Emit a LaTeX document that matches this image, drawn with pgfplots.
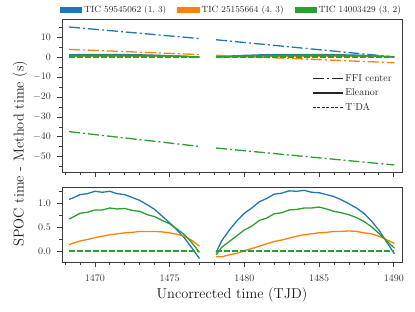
\documentclass[border=0pt]{standalone}
\usepackage{pgfplots}
\usepackage{pgfplotstable}
\pgfplotsset{compat=1.18}
\definecolor{tabblue}{HTML}{1F77B4}
\definecolor{taborange}{HTML}{FF7F0E}
\definecolor{tabgreen}{HTML}{2CA02C}
\definecolor{spine}{HTML}{3A3A3A}

% Eleanor: SPOC - method (s); nan separates the two orbits
\pgfplotstableread{
x y
1468.27 1.08
1468.6 1.12
1469.0 1.18
1469.5 1.20
1470.0 1.25
1470.5 1.23
1471.0 1.25
1471.5 1.20
1472.0 1.18
1472.5 1.12
1473.0 1.06
1473.5 0.97
1474.0 0.87
1474.5 0.73
1475.0 0.59
1475.5 0.44
1476.0 0.27
1476.5 0.06
1477.0 -0.16
1477.5 nan
1478.11 -0.03
1478.5 0.22
1479.0 0.44
1479.5 0.63
1480.0 0.79
1480.5 0.90
1481.0 1.03
1481.5 1.10
1482.0 1.19
1482.5 1.21
1483.0 1.26
1483.5 1.25
1484.0 1.27
1484.5 1.23
1485.0 1.22
1485.5 1.18
1486.0 1.14
1486.5 1.07
1487.0 0.99
1487.5 0.90
1488.0 0.79
1488.5 0.63
1489.0 0.44
1489.5 0.20
1490.04 -0.06
}\eleblue
\pgfplotstableread{
x y
1468.27 0.13
1468.6 0.17
1469.0 0.21
1469.5 0.24
1470.0 0.28
1470.5 0.31
1471.0 0.34
1471.5 0.36
1472.0 0.38
1472.5 0.39
1473.0 0.41
1473.5 0.41
1474.0 0.41
1474.5 0.40
1475.0 0.38
1475.5 0.35
1476.0 0.31
1476.5 0.22
1477.0 0.10
1477.5 nan
1478.11 -0.12
1478.5 -0.12
1479.0 -0.08
1479.5 -0.05
1480.0 0.01
1480.5 0.05
1481.0 0.10
1481.5 0.15
1482.0 0.20
1482.5 0.23
1483.0 0.27
1483.5 0.31
1484.0 0.34
1484.5 0.36
1485.0 0.38
1485.5 0.39
1486.0 0.41
1486.5 0.41
1487.0 0.42
1487.5 0.41
1488.0 0.38
1488.5 0.36
1489.0 0.31
1489.5 0.24
1490.04 0.16
}\eleorange
\pgfplotstableread{
x y
1468.27 0.67
1468.6 0.72
1469.0 0.79
1469.5 0.81
1470.0 0.86
1470.5 0.86
1471.0 0.90
1471.5 0.88
1472.0 0.89
1472.5 0.85
1473.0 0.83
1473.5 0.76
1474.0 0.72
1474.5 0.64
1475.0 0.57
1475.5 0.46
1476.0 0.34
1476.5 0.17
1477.0 -0.03
1477.5 nan
1478.11 -0.08
1478.5 0.08
1479.0 0.20
1479.5 0.32
1480.0 0.44
1480.5 0.52
1481.0 0.64
1481.5 0.69
1482.0 0.78
1482.5 0.80
1483.0 0.86
1483.5 0.87
1484.0 0.90
1484.5 0.90
1485.0 0.92
1485.5 0.88
1486.0 0.83
1486.5 0.80
1487.0 0.76
1487.5 0.70
1488.0 0.62
1488.5 0.51
1489.0 0.37
1489.5 0.22
1490.04 0.06
}\elegreen
% TDA: zero difference
\pgfplotstableread{
x y
1468.27 0
1477.0 0
1477.5 nan
1478.11 0
1490.04 0
}\tda
% FFI center
\pgfplotstableread{
x y
1468.27 15.0
1477.0 9.2
1477.5 nan
1478.11 8.6
1490.04 0.0
}\ffiblue
\pgfplotstableread{
x y
1468.27 3.8
1477.0 1.2
1477.5 nan
1478.11 0.8
1490.04 -2.9
}\ffiorange
\pgfplotstableread{
x y
1468.27 -37.4
1477.0 -44.8
1477.5 nan
1478.11 -45.6
1490.04 -54.1
}\ffigreen

\pgfplotsset{
 base/.style={scale only axis, width=340pt, xmin=1467.8, xmax=1490.55,
   axis line style={spine, line width=0.8pt},
   tick style={spine, line width=0.7pt},
   major tick length=5pt, minor tick length=2.8pt, tick align=outside,
   xtick pos=bottom, ytick pos=left,
   tick label style={font=\fontsize{10}{12}\selectfont, text=black!80},
   xticklabel style={yshift=-5pt},
   yticklabel style={xshift=-2.5pt},
   xtick={1470,1475,...,1490}, minor xtick={1468,1469,...,1490},
   unbounded coords=jump,
   every axis plot/.append style={line width=1.3pt},
   /pgf/number format/set thousands separator={}},
 ffi/.style={dash pattern=on 11pt off 3pt on 2pt off 3pt},
 tda/.style={dash pattern=on 5.5pt off 2.5pt},
 legline/.style={legend image code/.code={\draw[##1] (0pt,0pt) -- (30pt,0pt);}},
 patchblue/.style={legend image code/.code={\fill[tabblue] (0pt,-2.6pt) rectangle (21pt,2.6pt);}},
 patchorange/.style={legend image code/.code={\fill[taborange] (0pt,-2.6pt) rectangle (21pt,2.6pt);}},
 patchgreen/.style={legend image code/.code={\fill[tabgreen] (0pt,-2.6pt) rectangle (21pt,2.6pt);}},
}

\begin{document}
\begin{tikzpicture}
\path[use as bounding box] (0,0) rectangle (415pt,312pt);

\begin{axis}[base, at={(62pt,140pt)}, anchor=south west, height=153pt,
  ymin=-57.6, ymax=19, ytick={-50,-40,...,10}, minor ytick={-55,-45,...,15},
  xticklabels={},
  legend style={at={(rel axis cs:0.985,0.665)}, anchor=north east, draw=none, fill=none,
    font=\fontsize{10}{12}\selectfont, row sep=2pt, text=black!85},
  legend cell align=left]
\addplot[tabblue, ffi, forget plot] table {\ffiblue};
\addplot[tabblue, forget plot] table {\eleblue};
\addplot[tabblue, tda, forget plot] table {\tda};
\addplot[taborange, ffi, forget plot] table {\ffiorange};
\addplot[taborange, forget plot] table {\eleorange};
\addplot[taborange, tda, forget plot] table {\tda};
\addplot[tabgreen, ffi, forget plot] table {\ffigreen};
\addplot[tabgreen, forget plot] table {\elegreen};
\addplot[tabgreen, tda, forget plot] table {\tda};
\addlegendimage{black!85, line width=1.2pt, ffi, legline}
\addlegendentry{FFI center}
\addlegendimage{black!85, line width=1.2pt, legline}
\addlegendentry{Eleanor}
\addlegendimage{black!85, line width=0.9pt, dash pattern=on 3pt off 1.5pt, legline}
\addlegendentry{T'DA}
\end{axis}

\begin{axis}[base, at={(62pt,50pt)}, anchor=south west, height=75pt,
  ymin=-0.23, ymax=1.34, ytick={0,0.5,1}, minor ytick={0.25,0.75,1.25},
  yticklabel style={/pgf/number format/.cd, fixed, fixed zerofill, precision=1},
  legend columns=3,
  legend style={at={(rel axis cs:0.4985,3.36)}, anchor=center, draw=none, fill=none,
    font=\fontsize{9}{11}\selectfont, text=black!85, /tikz/every even column/.append style={column sep=9pt}},
  legend cell align=left]
\addplot[tabblue, forget plot] table {\eleblue};
\addplot[tabblue, tda, forget plot] table {\tda};
\addplot[taborange, forget plot] table {\eleorange};
\addplot[taborange, tda, forget plot] table {\tda};
\addplot[tabgreen, forget plot] table {\elegreen};
\addplot[tabgreen, tda, forget plot] table {\tda};
\addlegendimage{patchblue}
\addlegendentry{TIC 59545062 (1, 3)}
\addlegendimage{patchorange}
\addlegendentry{TIC 25155664 (4, 3)}
\addlegendimage{patchgreen}
\addlegendentry{TIC 14003429 (3, 2)}
\end{axis}

\node[font=\fontsize{14.4}{17}\selectfont, text=black!90] at (232pt,17pt) {Uncorrected time (TJD)};
\node[font=\fontsize{14.4}{17}\selectfont, text=black!90, rotate=90] at (20pt,158.5pt) {SPOC time - Method time (s)};
\node[font=\fontsize{14.4}{17}\selectfont, text=black!70, rotate=90, anchor=base] at (23pt,89pt) {.};
\end{tikzpicture}
\end{document}
